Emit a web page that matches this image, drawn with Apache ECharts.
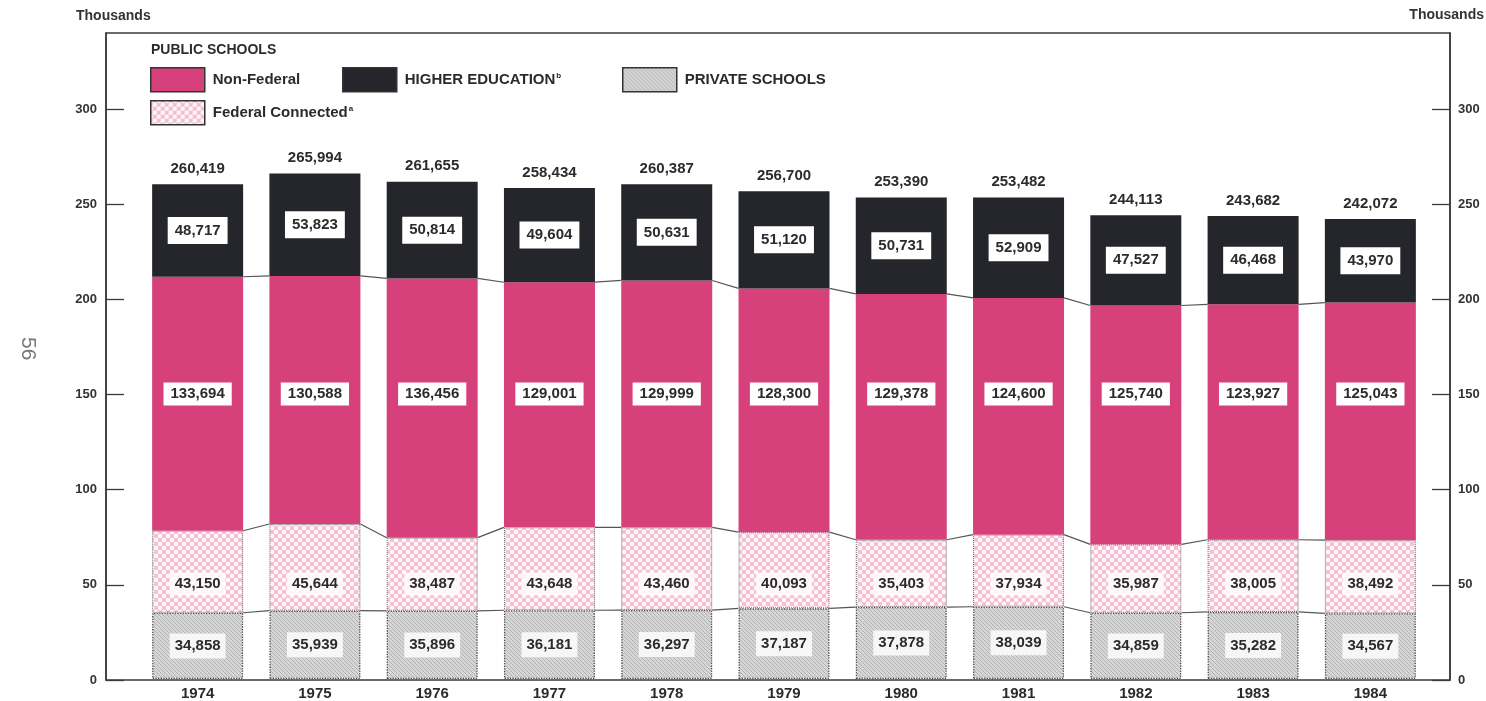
<!DOCTYPE html>
<html>
<head>
<meta charset="utf-8">
<script src="https://cdn.jsdelivr.net/npm/echarts@6/dist/echarts.min.js"></script>
<style>
  html, body { margin: 0; padding: 0; background: #ffffff; }
  #chart { width: 1486px; height: 701px; }
</style>
</head>
<body>
<div id="chart"></div>
<script>
// Enrollment by school type, 1974-1984 (persons)
const years = ['1974', '1975', '1976', '1977', '1978', '1979', '1980', '1981', '1982', '1983', '1984'];
const privateSchools   = [34858, 35939, 35896, 36181, 36297, 37187, 37878, 38039, 34859, 35282, 34567];
const federalConnected = [43150, 45644, 38487, 43648, 43460, 40093, 35403, 37934, 35987, 38005, 38492];
const nonFederal       = [133694, 130588, 136456, 129001, 129999, 128300, 129378, 124600, 125740, 123927, 125043];
const higherEducation  = [48717, 53823, 50814, 49604, 50631, 51120, 50731, 52909, 47527, 46468, 43970];
const totals           = [260419, 265994, 261655, 258434, 260387, 256700, 253390, 253482, 244113, 243682, 242072];
const yTickValues      = [0, 50000, 100000, 150000, 200000, 250000, 300000];

const FONT = '"Liberation Sans", Arial, Helvetica, sans-serif';
const INK = '#2b2b2b';
const BAR_W = 91;
const Y_MAX = 340000;

// Fill patterns
function makeTile(w, h, draw) {
  const c = document.createElement('canvas');
  c.width = w; c.height = h;
  draw(c.getContext('2d'), w, h);
  return { image: c, repeat: 'repeat' };
}
const federalFill = makeTile(8, 8, (ctx, w, h) => {
  ctx.fillStyle = '#f2b9cf';
  ctx.fillRect(0, 0, w, h);
  ctx.fillStyle = '#fdf5f8';
  [[0, 0], [8, 0], [0, 8], [8, 8], [4, 4]].forEach(([x, y]) => {
    ctx.beginPath(); ctx.arc(x, y, 2.4, 0, Math.PI * 2); ctx.fill();
  });
});
const privateFill = makeTile(4, 4, (ctx, w, h) => {
  ctx.fillStyle = '#d6d6d6';
  ctx.fillRect(0, 0, w, h);
  ctx.strokeStyle = '#b2b2b2';
  ctx.lineWidth = 1;
  ctx.beginPath();
  ctx.moveTo(-1, 3); ctx.lineTo(1, 5);
  ctx.moveTo(0, 0); ctx.lineTo(4, 4);
  ctx.moveTo(3, -1); ctx.lineTo(5, 1);
  ctx.stroke();
});

const fmt = v => Number(v).toLocaleString('en-US');

// Cumulative heights of each segment boundary, used for the connector lines
const cumPrivate = privateSchools.slice();
const cumFederal = cumPrivate.map((v, i) => v + federalConnected[i]);
const cumNonFed  = cumFederal.map((v, i) => v + nonFederal[i]);
function connectorData(cum) {
  const out = [];
  for (let i = 0; i < cum.length - 1; i++) out.push([i, cum[i], cum[i + 1]]);
  return out;
}
const connectors = [].concat(connectorData(cumPrivate), connectorData(cumFederal), connectorData(cumNonFed));

const chart = echarts.init(document.getElementById('chart'), null, { renderer: 'canvas' });

const yPix = v => chart.convertToPixel({ yAxisIndex: 2 }, v);
// Holds a segment's label at a fixed level, centred on its bar
const levelLabel = level => params => ({
  x: params.rect.x + params.rect.width / 2,
  y: yPix(level),
  align: 'center',
  verticalAlign: 'middle'
});

const segLabel = (bg, pad) => ({
  show: true,
  position: 'inside',
  formatter: p => fmt(p.value),
  color: INK,
  fontFamily: FONT,
  fontWeight: 'bold',
  fontSize: 15,
  backgroundColor: bg,
  padding: pad
});

const legendBase = {
  orient: 'horizontal',
  padding: 0,
  itemWidth: 54,
  itemHeight: 24,
  icon: 'rect',
  selectedMode: false,
  itemStyle: { borderColor: '#333', borderWidth: 1.5, borderType: 'solid' },
  textStyle: {
    fontFamily: FONT, fontSize: 15, fontWeight: 'bold', color: INK,
    padding: [0, 0, 0, 3],
    rich: {
      n: { fontFamily: FONT, fontSize: 15, fontWeight: 'bold', color: INK },
      s: { fontFamily: FONT, fontSize: 8, fontWeight: 'bold', color: INK, padding: [0, 0, 8, 1] }
    }
  },
  formatter: name => {
    if (name === 'HIGHER EDUCATION') return '{n|HIGHER EDUCATION}{s|b}';
    if (name === 'Federal Connected') return '{n|Federal Connected}{s|a}';
    return '{n|' + name + '}';
  }
};

const option = {
  backgroundColor: '#ffffff',
  animation: false,
  textStyle: { fontFamily: FONT },
  grid: [
    { left: 106, top: 33, width: 1344, height: 647, show: true, borderColor: '#3a3a3a', borderWidth: 1.5, backgroundColor: 'transparent' },
    { left: 139, top: 33, width: 1290, height: 647 }
  ],
  xAxis: [
    { type: 'value', gridIndex: 0, min: 0, max: 1, show: false },
    {
      type: 'category', gridIndex: 1, data: years,
      axisLine: { show: false }, axisTick: { show: false },
      axisLabel: { color: INK, fontFamily: FONT, fontWeight: 'bold', fontSize: 15, margin: 7 }
    }
  ],
  yAxis: [
    {
      type: 'value', gridIndex: 0, position: 'left', min: 0, max: Y_MAX, interval: 50000,
      splitLine: { show: false },
      axisLine: { show: true, lineStyle: { color: '#3a3a3a', width: 1.5 } },
      axisTick: { show: true, inside: true, length: 18, customValues: yTickValues, lineStyle: { color: '#3a3a3a', width: 1.3 } },
      axisLabel: { customValues: yTickValues, formatter: v => String(v / 1000), color: '#333', fontFamily: FONT, fontWeight: 'bold', fontSize: 13, margin: 9 }
    },
    {
      type: 'value', gridIndex: 0, position: 'right', min: 0, max: Y_MAX, interval: 50000,
      splitLine: { show: false },
      axisLine: { show: true, lineStyle: { color: '#3a3a3a', width: 1.5 } },
      axisTick: { show: true, inside: true, length: 18, customValues: yTickValues, lineStyle: { color: '#3a3a3a', width: 1.3 } },
      axisLabel: { customValues: yTickValues, formatter: v => String(v / 1000), color: '#333', fontFamily: FONT, fontWeight: 'bold', fontSize: 13, margin: 8 }
    },
    { type: 'value', gridIndex: 1, min: 0, max: Y_MAX, interval: 50000, show: false, splitLine: { show: false } }
  ],
  legend: [
    Object.assign({}, legendBase, { data: ['Non-Federal'], left: 150, top: 67 }),
    Object.assign({}, legendBase, { data: ['Federal Connected'], left: 150, top: 100 }),
    Object.assign({}, legendBase, { data: ['HIGHER EDUCATION'], left: 342, top: 67 }),
    Object.assign({}, legendBase, { data: ['PRIVATE SCHOOLS'], left: 622, top: 67 })
  ],
  graphic: [
    { type: 'text', left: 76, top: 9, style: { text: 'Thousands', fontFamily: FONT, fontWeight: 'bold', fontSize: 14, fill: '#333' } },
    { type: 'text', right: 2, top: 8, style: { text: 'Thousands', fontFamily: FONT, fontWeight: 'bold', fontSize: 14, fill: '#333' } },
    { type: 'text', left: 151, top: 43, style: { text: 'PUBLIC SCHOOLS', fontFamily: FONT, fontWeight: 'bold', fontSize: 14, fill: INK } },
    { type: 'text', x: 38, y: 337, rotation: -Math.PI / 2, style: { text: '56', fontFamily: FONT, fontSize: 21, fill: '#7a7a7a' } }
  ],
  series: [
    {
      name: 'PRIVATE SCHOOLS', type: 'bar', xAxisIndex: 1, yAxisIndex: 2, stack: 'all',
      barWidth: BAR_W, barGap: '-100%',
      itemStyle: { color: privateFill, borderColor: '#4a4a4a', borderWidth: 1.3, borderType: 'dotted' },
      label: segLabel('rgba(250,250,250,0.92)', [5, 5]),
      data: privateSchools
    },
    {
      name: 'Federal Connected', type: 'bar', xAxisIndex: 1, yAxisIndex: 2, stack: 'all',
      barWidth: BAR_W, barGap: '-100%',
      itemStyle: { color: federalFill, borderColor: '#6a6a6a', borderWidth: 1, borderType: 'dotted' },
      label: segLabel('rgba(255,250,252,0.92)', [4, 5]),
      labelLayout: levelLabel(50000),
      data: federalConnected
    },
    {
      name: 'Non-Federal', type: 'bar', xAxisIndex: 1, yAxisIndex: 2, stack: 'all',
      barWidth: BAR_W, barGap: '-100%',
      itemStyle: { color: '#d6417c' },
      label: segLabel('#ffffff', [4, 7]),
      labelLayout: levelLabel(150000),
      data: nonFederal
    },
    {
      name: 'HIGHER EDUCATION', type: 'bar', xAxisIndex: 1, yAxisIndex: 2, stack: 'all',
      barWidth: BAR_W, barGap: '-100%',
      itemStyle: { color: '#25262c' },
      label: segLabel('#ffffff', [6, 7]),
      data: higherEducation
    },
    {
      name: 'Total', type: 'bar', xAxisIndex: 1, yAxisIndex: 2,
      barWidth: BAR_W, barGap: '-100%', z: 1, silent: true,
      itemStyle: { color: 'rgba(0,0,0,0)' },
      label: {
        show: true, position: 'top', distance: 8,
        formatter: p => fmt(p.value),
        color: INK, fontFamily: FONT, fontWeight: 'bold', fontSize: 15
      },
      data: totals
    },
    {
      name: 'connectors', type: 'custom', xAxisIndex: 1, yAxisIndex: 2, silent: true, z: 3,
      encode: { x: 0, y: [1, 2] },
      renderItem: (params, api) => {
        const i = api.value(0);
        const a = api.coord([i, api.value(1)]);
        const b = api.coord([i + 1, api.value(2)]);
        const half = BAR_W / 2;
        return {
          type: 'line',
          shape: { x1: a[0] + half, y1: a[1], x2: b[0] - half, y2: b[1] },
          style: { stroke: '#555555', lineWidth: 1.2 }
        };
      },
      data: connectors
    }
  ]
};

chart.setOption(option);
</script>
</body>
</html>
